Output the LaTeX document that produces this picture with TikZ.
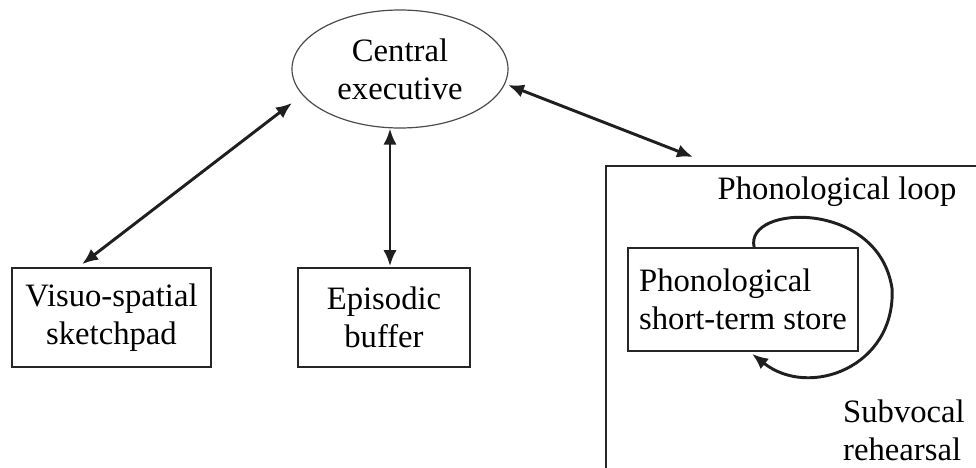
\documentclass[tikz,border=0pt]{standalone}
\usepackage{fontspec}
\setmainfont{Liberation Serif}
\usetikzlibrary{shapes.geometric,arrows.meta,calc}
\begin{document}
\begin{tikzpicture}[x=0.75pt,y=-0.75pt,
  every node/.style={font=\fontsize{24.5}{28.5}\selectfont, text=black},
  box/.style={draw=black!85, line width=1.3pt, inner sep=0pt, align=center},
  tip/.style={Latex[length=12pt,width=10pt]},
  conn/.style={line width=2.2pt, draw=black!88, {Latex[length=12pt,width=10pt]}-{Latex[length=12pt,width=10pt]}},
  loopconn/.style={line width=2.2pt, draw=black!88, -{Latex[length=12pt,width=10pt]}}]
\useasboundingbox (0,0) rectangle (976,468);
\fill[white] (0,0) rectangle (976,468);

\node[draw=black!70, line width=0.9pt, ellipse, inner sep=0pt, align=center,
      minimum width=162pt, minimum height=88.5pt] (ce) at (400,69) {Central\\executive};
\node[box, minimum width=149.25pt, minimum height=74.25pt] (vs) at (111.5,317.5) {Visuo-spatial\\sketchpad};
\node[box, minimum width=129pt, minimum height=74.25pt] (ep) at (384,317.5) {Episodic\\buffer};

\begin{scope}
\clip (0,0) rectangle (976,468);
\coordinate (plc) at (606,166);
\draw[draw=black!85, line width=1.3pt] ($(plc)+(0,320)$) -- (plc) -- ($(plc)+(400,0)$);
\end{scope}
\node (pltitle) at (837,192) {Phonological loop};
\node[box, align=left, minimum width=172.5pt, minimum height=77.25pt] (ps) at (743,299.5) {Phonological\\short-term store};
\node[align=left, anchor=center] (sr) at (904,430) {Subvocal\\rehearsal};

% connectors
\coordinate (vsA) at ($(vs.north west)+(71,-3)$);
\coordinate (ceA) at ($(ce.center)+(-108,34)$);
\draw[conn] (vsA) -- (ceA);

\coordinate (epB) at ($(ep.north)+(6,-1)$);
\draw[conn] (ce.south -| epB) -- (epB);

\coordinate (ceC) at ($(ce.center)+(108,16)$);
\coordinate (plC) at ($(plc)+(87,-9)$);
\draw[conn] (ceC) -- (plC);

\coordinate (psS) at ($(ps.north west)+(127,0)$);
\coordinate (psE) at ($(ps.south west)+(125,2)$);
\draw[loopconn] (psS) .. controls ($(psS)+(-10,-43)$) and ($(psS)+(125,-48)$) .. ($(psS)+(138,42)$)
  .. controls ($(psS)+(141,120)$) and ($(psS)+(55,152)$) .. (psE);
\end{tikzpicture}
\end{document}
